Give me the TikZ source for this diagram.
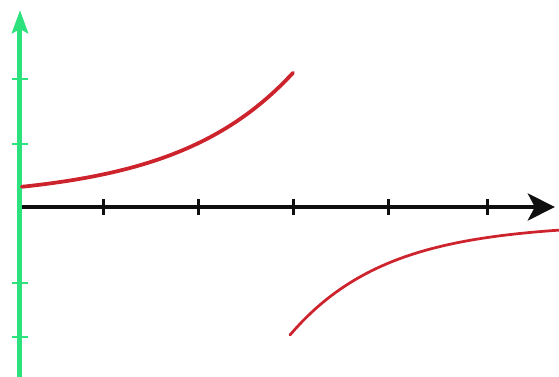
\documentclass[tikz,border=0pt]{standalone}
\usetikzlibrary{arrows.meta}
\definecolor{mint}{RGB}{45,225,125}
\definecolor{brick}{RGB}{205,35,45}
\definecolor{ink}{RGB}{15,15,15}
\begin{document}
\begin{tikzpicture}[x=1.9cm,y=1.3cm,
    xaxis/.style={ink,line width=0.09cm,-{Stealth[length=0.54cm,width=0.54cm,inset=0.14cm]}},
    yaxis/.style={mint,line width=0.1cm,-{Stealth[length=0.46cm,width=0.32cm,inset=0.08cm]}},
    graph/.style={brick,line width=#1,line cap=round},
    graph/.default=0.075cm]
  \useasboundingbox (-0.2105,-2.6154) rectangle (5.6737,3.1846);
  \coordinate (O) at (0,0);
  \coordinate (xend) at (5.63,0);
  \coordinate (ybot) at (0,-2.7);
  \coordinate (ytop) at (0,3.03);
  % axes
  \draw[xaxis] (O) -- (xend);
  \foreach \x in {0.874,1.874,2.874,3.884,4.926}
    \draw[ink,line width=0.06cm] (\x,-0.13) -- (\x,0.13);
  \draw[yaxis] (ybot) -- (ytop);
  \foreach \y in {1.97,0.97,-1.17,-2.0}
    \draw[mint,line width=0.04cm] (-0.085,\y) -- (0.085,\y);
  % the two branches
  \draw[graph] plot[domain=0.02:2.874,samples=60] (\x,{0.185*exp(0.818*\x)+0.123});
  \draw[graph=0.055cm] plot[domain=2.842:5.674,samples=60] (\x,{-1.714*exp(-(\x-2.842))-0.255});
\end{tikzpicture}
\end{document}
